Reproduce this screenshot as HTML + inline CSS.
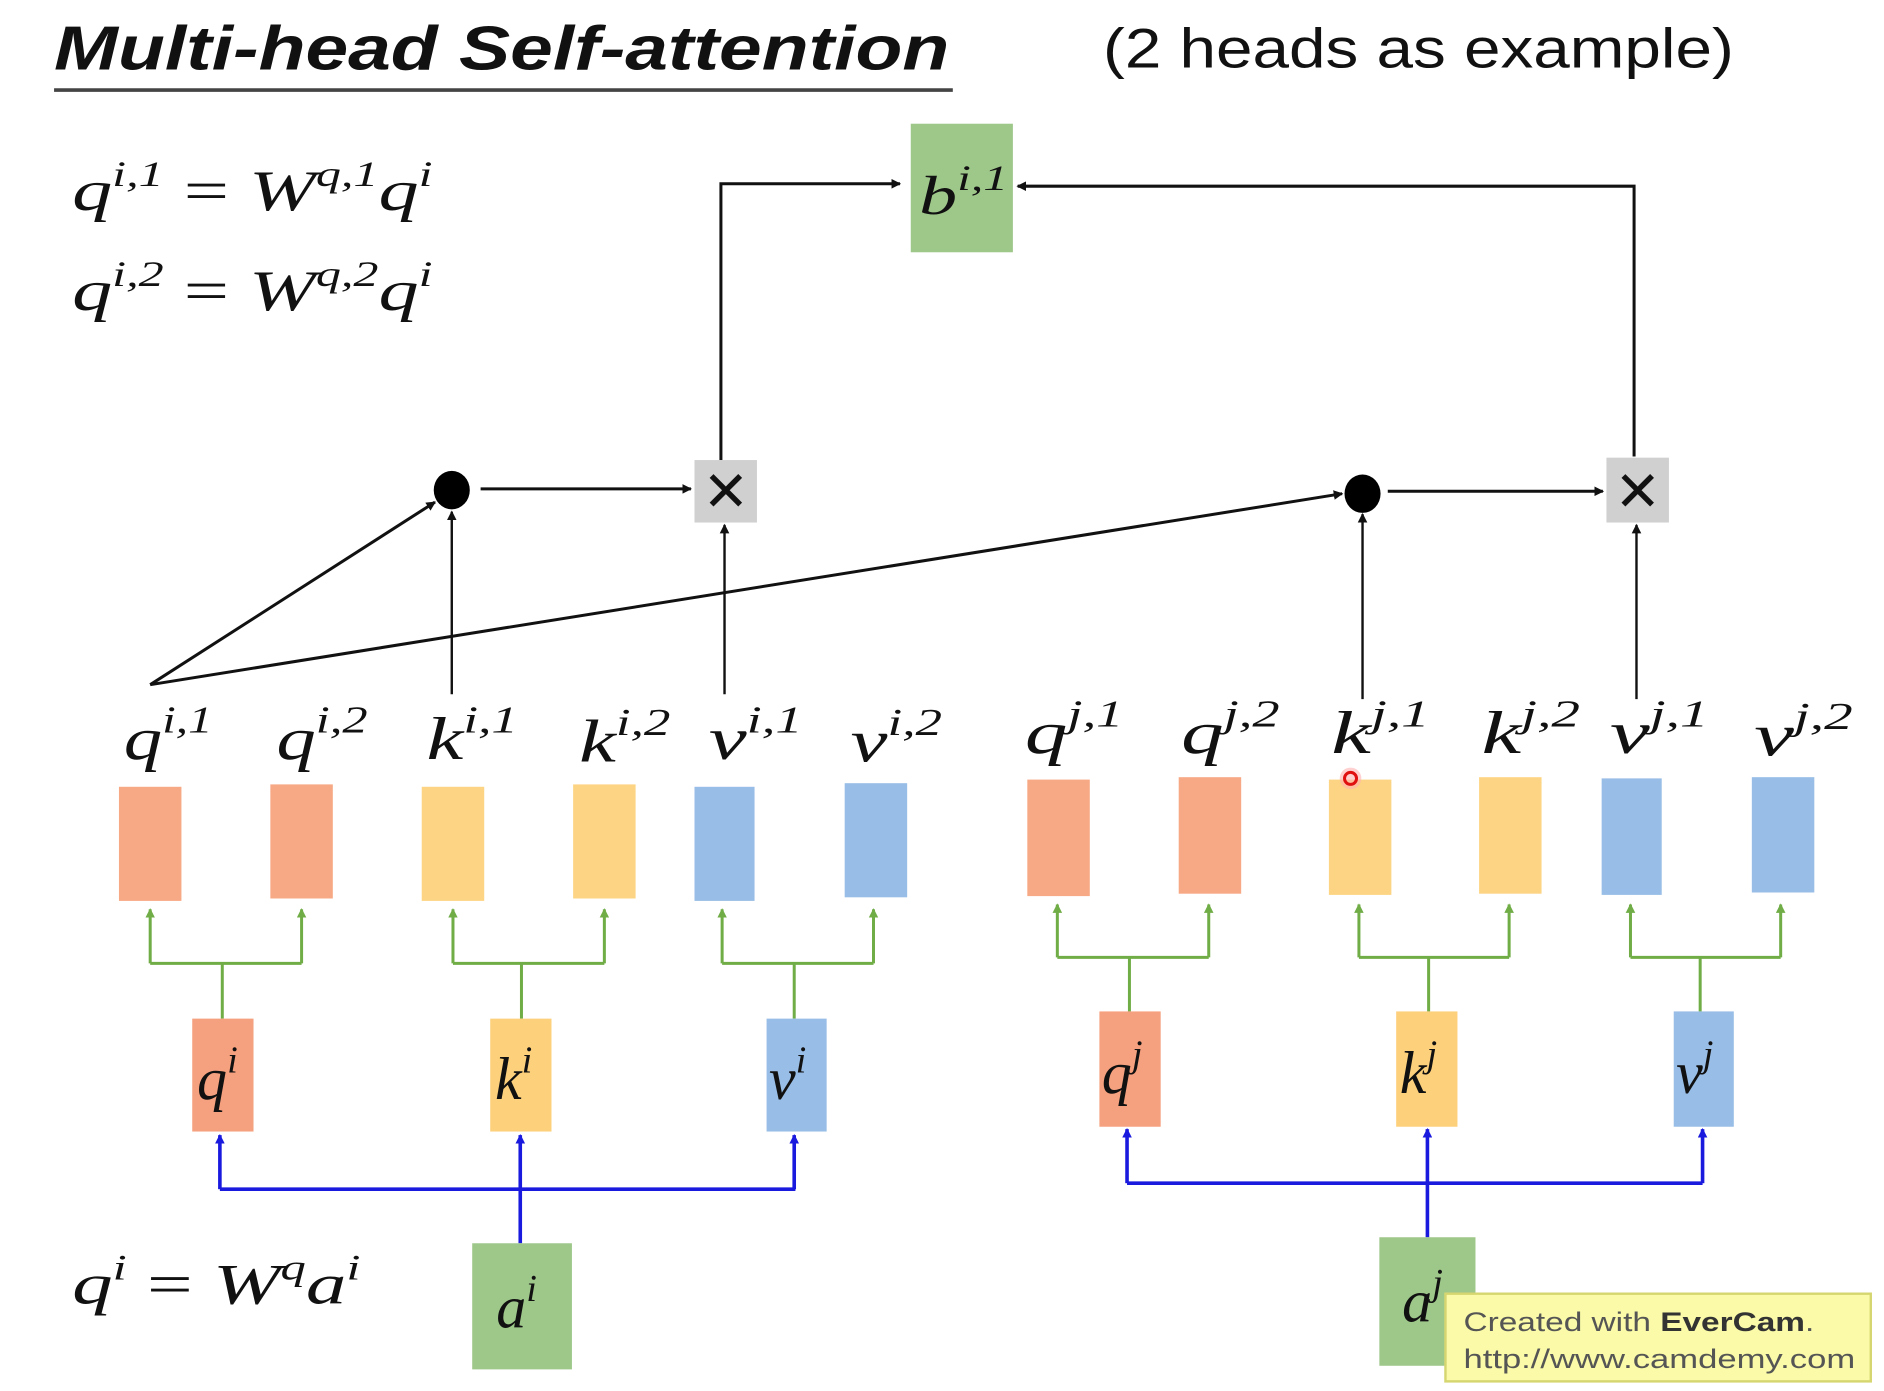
<!DOCTYPE html>
<html><head><meta charset="utf-8"><style>
html,body{margin:0;padding:0;background:#fff;}
svg{display:block;}
.m{font-family:"Liberation Serif",serif;font-style:italic;fill:#111;}
.s{font-family:"Liberation Sans",sans-serif;}
</style></head><body>
<svg width="1884" height="1391" viewBox="0 0 1568 1158" preserveAspectRatio="none" xmlns="http://www.w3.org/2000/svg">
<defs>
<marker id="ak" markerWidth="8" markerHeight="8" refX="7" refY="4" orient="auto" markerUnits="userSpaceOnUse"><path d="M0,0 L8,4 L0,8 z" fill="#111"/></marker>
<marker id="ag" markerWidth="8" markerHeight="8" refX="7" refY="4" orient="auto" markerUnits="userSpaceOnUse"><path d="M0,0 L8,4 L0,8 z" fill="#70ad47"/></marker>
<marker id="ab" markerWidth="8" markerHeight="8" refX="7" refY="4" orient="auto" markerUnits="userSpaceOnUse"><path d="M0,0 L8,4 L0,8 z" fill="#1a1adf"/></marker>
</defs>
<rect width="1568" height="1158" fill="#fff"/>
<text x="45" y="58" class="s" font-size="52" font-weight="bold" font-style="italic" fill="#111" textLength="745" lengthAdjust="spacingAndGlyphs">Multi-head Self-attention</text>
<line x1="45" y1="75" x2="793" y2="75" stroke="#444" stroke-width="3"/>
<text x="918" y="56" class="s" font-size="46" fill="#111" textLength="525" lengthAdjust="spacingAndGlyphs">(2 heads as example)</text>

<text x="60" y="175" class="m" font-size="48" textLength="300" lengthAdjust="spacingAndGlyphs">q<tspan dy="-20" font-size="30">i,1</tspan><tspan dy="20" font-style="normal"> = </tspan>W<tspan dy="-20" font-size="30">q,1</tspan><tspan dy="20">q</tspan><tspan dy="-20" font-size="30">i</tspan></text>
<text x="60" y="258" class="m" font-size="48" textLength="300" lengthAdjust="spacingAndGlyphs">q<tspan dy="-20" font-size="30">i,2</tspan><tspan dy="20" font-style="normal"> = </tspan>W<tspan dy="-20" font-size="30">q,2</tspan><tspan dy="20">q</tspan><tspan dy="-20" font-size="30">i</tspan></text>
<text x="60" y="1085" class="m" font-size="48" textLength="240" lengthAdjust="spacingAndGlyphs">q<tspan dy="-20" font-size="30">i</tspan><tspan dy="20" font-style="normal"> = </tspan>W<tspan dy="-20" font-size="30">q</tspan><tspan dy="20">a</tspan><tspan dy="-20" font-size="30">i</tspan></text>

<rect x="758" y="103" width="85" height="107" fill="#9ec78a"/>
<text x="765" y="178" class="m" font-size="46" textLength="74" lengthAdjust="spacingAndGlyphs">b<tspan dy="-20" font-size="30">i,1</tspan></text>

<g stroke="#111" stroke-width="2.5" fill="none">
<polyline points="600,383 600,153 749,153" marker-end="url(#ak)"/>
<polyline points="1360,380 1360,155 847,155" marker-end="url(#ak)"/>
<line x1="400" y1="407" x2="575" y2="407" marker-end="url(#ak)"/>
<line x1="1155" y1="409" x2="1334" y2="409" marker-end="url(#ak)"/>
<line x1="125" y1="570" x2="362" y2="418" marker-end="url(#ak)"/>
<line x1="125" y1="570" x2="1117" y2="411" marker-end="url(#ak)"/>
<line x1="376" y1="578" x2="376" y2="426" stroke-width="2" marker-end="url(#ak)"/>
<line x1="603" y1="578" x2="603" y2="437" stroke-width="2" marker-end="url(#ak)"/>
<line x1="1134" y1="582" x2="1134" y2="428" stroke-width="2" marker-end="url(#ak)"/>
<line x1="1362" y1="582" x2="1362" y2="437" stroke-width="2" marker-end="url(#ak)"/>
</g>
<ellipse cx="376" cy="408" rx="15" ry="16" fill="#000"/>
<ellipse cx="1134" cy="411" rx="15" ry="16" fill="#000"/>
<rect x="578" y="383" width="52" height="52" fill="#d0d0d0"/>
<rect x="1337" y="381" width="52" height="54" fill="#d0d0d0"/>
<text x="604" y="425" text-anchor="middle" class="s" font-size="46" fill="#111">✕</text>
<text x="1363" y="425" text-anchor="middle" class="s" font-size="46" fill="#111">✕</text>

<g class="m" font-size="50">
<text x="103" y="632" textLength="74" lengthAdjust="spacingAndGlyphs">q<tspan dy="-22" font-size="32">i,1</tspan></text>
<text x="230" y="632" textLength="76" lengthAdjust="spacingAndGlyphs">q<tspan dy="-22" font-size="32">i,2</tspan></text>
<text x="355" y="632" textLength="76" lengthAdjust="spacingAndGlyphs">k<tspan dy="-22" font-size="32">i,1</tspan></text>
<text x="482" y="634" textLength="76" lengthAdjust="spacingAndGlyphs">k<tspan dy="-22" font-size="32">i,2</tspan></text>
<text x="590" y="632" textLength="78" lengthAdjust="spacingAndGlyphs">v<tspan dy="-22" font-size="32">i,1</tspan></text>
<text x="708" y="634" textLength="76" lengthAdjust="spacingAndGlyphs">v<tspan dy="-22" font-size="32">i,2</tspan></text>
<text x="853" y="627" textLength="82" lengthAdjust="spacingAndGlyphs">q<tspan dy="-22" font-size="32">j,1</tspan></text>
<text x="983" y="627" textLength="82" lengthAdjust="spacingAndGlyphs">q<tspan dy="-22" font-size="32">j,2</tspan></text>
<text x="1108" y="627" textLength="82" lengthAdjust="spacingAndGlyphs">k<tspan dy="-22" font-size="32">j,1</tspan></text>
<text x="1233" y="627" textLength="82" lengthAdjust="spacingAndGlyphs">k<tspan dy="-22" font-size="32">j,2</tspan></text>
<text x="1340" y="627" textLength="82" lengthAdjust="spacingAndGlyphs">v<tspan dy="-22" font-size="32">j,1</tspan></text>
<text x="1460" y="629" textLength="82" lengthAdjust="spacingAndGlyphs">v<tspan dy="-22" font-size="32">j,2</tspan></text>
</g>

<g>
<rect x="99" y="655" width="52" height="95" fill="#f7a985"/>
<rect x="225" y="653" width="52" height="95" fill="#f7a985"/>
<rect x="351" y="655" width="52" height="95" fill="#fdd483"/>
<rect x="477" y="653" width="52" height="95" fill="#fdd483"/>
<rect x="578" y="655" width="50" height="95" fill="#98bde6"/>
<rect x="703" y="652" width="52" height="95" fill="#98bde6"/>
<rect x="855" y="649" width="52" height="97" fill="#f7a985"/>
<rect x="981" y="647" width="52" height="97" fill="#f7a985"/>
<rect x="1106" y="649" width="52" height="96" fill="#fdd483"/>
<rect x="1231" y="647" width="52" height="97" fill="#fdd483"/>
<rect x="1333" y="648" width="50" height="97" fill="#98bde6"/>
<rect x="1458" y="647" width="52" height="96" fill="#98bde6"/>
</g>

<g stroke="#70ad47" stroke-width="2.5" fill="none">
<polyline points="185,848 185,802"/><line x1="125" y1="802" x2="251" y2="802"/>
<line x1="125" y1="802" x2="125" y2="757" marker-end="url(#ag)"/><line x1="251" y1="802" x2="251" y2="757" marker-end="url(#ag)"/>
<polyline points="434,848 434,802"/><line x1="377" y1="802" x2="503" y2="802"/>
<line x1="377" y1="802" x2="377" y2="757" marker-end="url(#ag)"/><line x1="503" y1="802" x2="503" y2="757" marker-end="url(#ag)"/>
<polyline points="661,848 661,802"/><line x1="601" y1="802" x2="727" y2="802"/>
<line x1="601" y1="802" x2="601" y2="757" marker-end="url(#ag)"/><line x1="727" y1="802" x2="727" y2="757" marker-end="url(#ag)"/>
<polyline points="940,842 940,797"/><line x1="880" y1="797" x2="1006" y2="797"/>
<line x1="880" y1="797" x2="880" y2="753" marker-end="url(#ag)"/><line x1="1006" y1="797" x2="1006" y2="753" marker-end="url(#ag)"/>
<polyline points="1189,842 1189,797"/><line x1="1131" y1="797" x2="1256" y2="797"/>
<line x1="1131" y1="797" x2="1131" y2="753" marker-end="url(#ag)"/><line x1="1256" y1="797" x2="1256" y2="753" marker-end="url(#ag)"/>
<polyline points="1415,842 1415,797"/><line x1="1357" y1="797" x2="1482" y2="797"/>
<line x1="1357" y1="797" x2="1357" y2="753" marker-end="url(#ag)"/><line x1="1482" y1="797" x2="1482" y2="753" marker-end="url(#ag)"/>
</g>

<rect x="160" y="848" width="51" height="94" fill="#f5a07e"/>
<rect x="408" y="848" width="51" height="94" fill="#fdd07c"/>
<rect x="638" y="848" width="50" height="94" fill="#98bde6"/>
<rect x="915" y="842" width="51" height="96" fill="#f5a07e"/>
<rect x="1162" y="842" width="51" height="96" fill="#fdd07c"/>
<rect x="1393" y="842" width="50" height="96" fill="#98bde6"/>
<g class="m" font-size="50">
<text x="164" y="915">q<tspan dy="-22" font-size="32">i</tspan></text>
<text x="412" y="915">k<tspan dy="-22" font-size="32">i</tspan></text>
<text x="640" y="915">v<tspan dy="-22" font-size="32">i</tspan></text>
<text x="917" y="910">q<tspan dy="-22" font-size="32">j</tspan></text>
<text x="1165" y="910">k<tspan dy="-22" font-size="32">j</tspan></text>
<text x="1395" y="910">v<tspan dy="-22" font-size="32">j</tspan></text>
</g>

<g stroke="#1a1adf" stroke-width="3" fill="none">
<line x1="183" y1="990" x2="662" y2="990"/>
<line x1="183" y1="990" x2="183" y2="945" marker-end="url(#ab)"/>
<line x1="661" y1="990" x2="661" y2="945" marker-end="url(#ab)"/>
<line x1="433" y1="1035" x2="433" y2="945" marker-end="url(#ab)"/>
<line x1="938" y1="985" x2="1417" y2="985"/>
<line x1="938" y1="985" x2="938" y2="940" marker-end="url(#ab)"/>
<line x1="1417" y1="985" x2="1417" y2="940" marker-end="url(#ab)"/>
<line x1="1188" y1="1030" x2="1188" y2="940" marker-end="url(#ab)"/>
</g>

<rect x="393" y="1035" width="83" height="105" fill="#9ec78a"/>
<rect x="1148" y="1030" width="80" height="107" fill="#9ec78a"/>
<text x="413" y="1105" class="m" font-size="50">a<tspan dy="-22" font-size="32">i</tspan></text>
<text x="1167" y="1100" class="m" font-size="50">a<tspan dy="-22" font-size="32">j</tspan></text>

<circle cx="1124" cy="648" r="9" fill="#ffb0b0" opacity="0.6"/>
<circle cx="1124" cy="648" r="5" fill="none" stroke="#e01010" stroke-width="2.5"/>

<rect x="1203" y="1077" width="354" height="73" fill="#fafaa8" stroke="#d6d670" stroke-width="2"/>
<text x="1218" y="1108" class="s" font-size="22" fill="#555" textLength="292" lengthAdjust="spacingAndGlyphs">Created with <tspan font-weight="bold" fill="#333">EverCam</tspan>.</text>
<text x="1218" y="1139" class="s" font-size="22" fill="#555" textLength="326" lengthAdjust="spacingAndGlyphs">http://www.camdemy.com</text>
</svg>
</body></html>
